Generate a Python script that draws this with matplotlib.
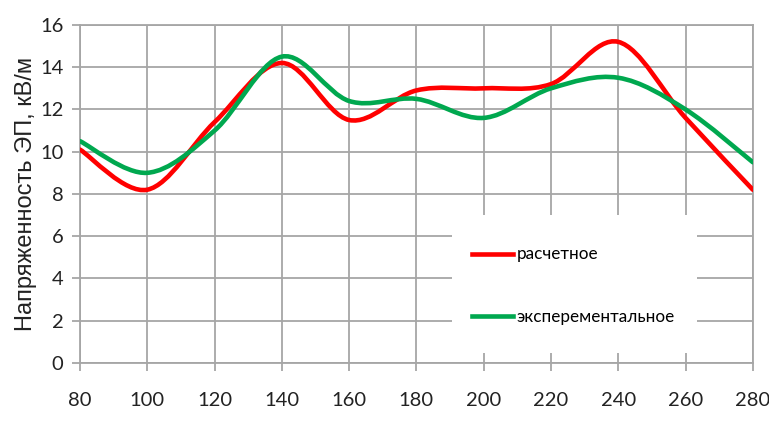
import matplotlib
matplotlib.use("Agg")
import matplotlib.pyplot as plt
import numpy as np
from matplotlib.path import Path
from matplotlib.patches import PathPatch, Rectangle
from matplotlib.lines import Line2D

# данные
x = [80, 100, 120, 140, 160, 180, 200, 220, 240, 260, 280]
calc = [10.1, 8.2, 11.4, 14.2, 11.5, 12.9, 13.0, 13.2, 15.2, 11.6, 8.2]
expr = [10.5, 9.0, 11.0, 14.5, 12.4, 12.5, 11.6, 13.0, 13.5, 12.0, 9.5]
labels = ["расчетное", "эксперементальное"]
colors = ["#ff0000", "#00a84f"]

xticks = list(range(80, 281, 20))
yticks = list(range(0, 17, 2))

NARROW = ["Lato", "DejaVu Sans"]


def smooth_path(xs, ys):
    '''гладкая линия как в Excel: кривые Безье через точки'''
    p = np.column_stack([xs, ys]).astype(float)
    ext = np.vstack([p[0], p, p[-1]])
    verts = [p[0]]
    codes = [Path.MOVETO]
    for i in range(len(p) - 1):
        p0, p1, p2, p3 = ext[i], ext[i + 1], ext[i + 2], ext[i + 3]
        verts += [p1 + (p2 - p0) / 6, p2 - (p3 - p1) / 6, p2]
        codes += [Path.CURVE4] * 3
    return Path(verts, codes)


fig = plt.figure(figsize=(7.69, 4.23), dpi=100)
ax = fig.add_axes([0.104, 0.142, 0.875, 0.799])

for ys, c in zip([calc, expr], colors):
    ax.add_patch(PathPatch(smooth_path(x, ys), facecolor="none", edgecolor=c,
                           lw=3.3, capstyle="round", zorder=3))

ax.set_xlim(80, 280)
ax.set_ylim(0, 16)
ax.set_xticks(xticks)
ax.set_yticks(yticks)
ax.grid(True, color="#a6a6a6", lw=1.3)
ax.set_axisbelow(True)
for s in ax.spines.values():
    s.set_color("#a6a6a6")
    s.set_linewidth(1.3)
ax.tick_params(colors="#a6a6a6", length=6, width=1.3, labelcolor="#222222",
               labelsize=14.5, pad=6)
ax.tick_params(axis="x", pad=15)
for lab in ax.get_xticklabels() + ax.get_yticklabels():
    lab.set_family(NARROW)

ax.set_ylabel("Напряженность ЭП, кВ/м", fontsize=17,
              family=["Liberation Sans", "DejaVu Sans"],
              color="#222222", labelpad=2)

# белая подложка легенды
ax.add_patch(Rectangle((0.553, 0.03), 0.364, 0.408, transform=ax.transAxes,
                       facecolor="white", edgecolor="none", zorder=2))
handles = [Line2D([], [], color=c, lw=3.3) for c in colors]
leg = ax.legend(handles, labels, loc="upper left", bbox_to_anchor=(0.56, 0.39),
                frameon=False, handlelength=2.4, handletextpad=0.2,
                labelspacing=2.75, prop={"family": NARROW, "size": 12.3})
leg.set_zorder(4)

fig.savefig("out.png", dpi=100)
